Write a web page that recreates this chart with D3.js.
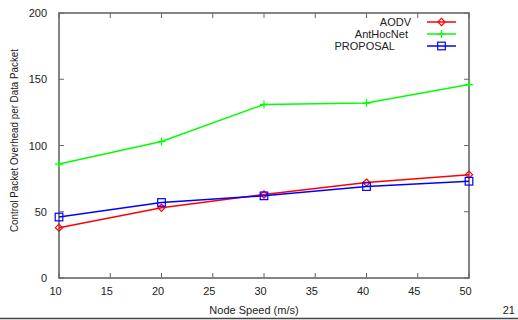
<!DOCTYPE html>
<html>
<head>
<meta charset="utf-8">
<script src="https://cdn.jsdelivr.net/npm/d3@7"></script>
<style>
  body { margin: 0; background: #fff; }
  text { font-family: "Liberation Sans", Arial, sans-serif; fill: #222; }
</style>
</head>
<body>
<script>
var speeds = [10, 20, 30, 40, 50];
var aodv = [38, 53, 63, 72, 78];
var antHocNet = [86, 103, 131, 132, 146];
var proposal = [46, 57, 62, 69, 73];
var seriesNames = ["AODV", "AntHocNet", "PROPOSAL"];
var seriesColors = ["#ff0000", "#00ff00", "#0000ff"];
var seriesMarks = ["diamond", "plus", "square"];
var xTicks = [10, 15, 20, 25, 30, 35, 40, 45, 50];
var yTicks = [0, 50, 100, 150, 200];

var w = 518;
var h = 320;
var margin = { top: 13, left: 59, bottom: 42, right: 49 };
var width = w - margin.left - margin.right;
var height = h - margin.top - margin.bottom;

var svg = d3.select("body")
  .append("svg")
  .attr("width", w)
  .attr("height", h);

var g = svg.append("g")
  .attr("transform", "translate(" + margin.left + ", " + margin.top + ")");

var x = d3.scaleLinear().domain([10, 50]).range([0, width]);
var y = d3.scaleLinear().domain([0, 200]).range([height, 0]);

// inward ticks on all four sides
var tickLen = 5;
var frameColor = "#666";
g.selectAll(".xt").data(xTicks).enter().append("line")
  .attr("x1", d => x(d)).attr("x2", d => x(d))
  .attr("y1", height).attr("y2", height - tickLen)
  .attr("stroke", frameColor);
g.selectAll(".xt2").data(xTicks).enter().append("line")
  .attr("x1", d => x(d)).attr("x2", d => x(d))
  .attr("y1", 0).attr("y2", tickLen)
  .attr("stroke", frameColor);
g.selectAll(".yt").data(yTicks).enter().append("line")
  .attr("x1", 0).attr("x2", tickLen)
  .attr("y1", d => y(d)).attr("y2", d => y(d))
  .attr("stroke", frameColor);
g.selectAll(".yt2").data(yTicks).enter().append("line")
  .attr("x1", width).attr("x2", width - tickLen)
  .attr("y1", d => y(d)).attr("y2", d => y(d))
  .attr("stroke", frameColor);

g.append("rect")
  .attr("width", width).attr("height", height)
  .attr("fill", "none")
  .attr("stroke", frameColor)
  .attr("stroke-width", 1.6);

g.selectAll(".xl").data(xTicks).enter().append("text")
  .attr("x", d => x(d) - 3.5).attr("y", height + 16.5)
  .attr("text-anchor", "middle")
  .attr("font-size", 11)
  .text(d => d);
g.selectAll(".yl").data(yTicks).enter().append("text")
  .attr("x", -12).attr("y", d => y(d) + 4)
  .attr("text-anchor", "end")
  .attr("font-size", 11)
  .text(d => d);

g.append("text")
  .attr("x", 254 - margin.left).attr("y", height + 36)
  .attr("text-anchor", "middle")
  .attr("font-size", 11)
  .text("Node Speed (m/s)");
svg.append("text")
  .attr("transform", "translate(18,140.5) rotate(-90)")
  .attr("text-anchor", "middle")
  .attr("font-size", 11)
  .attr("textLength", 183)
  .attr("lengthAdjust", "spacingAndGlyphs")
  .text("Control Packet Overhead per Data Packet");

svg.append("text")
  .attr("x", 515).attr("y", 314)
  .attr("text-anchor", "end")
  .attr("font-size", 11)
  .text("21");
svg.append("line")
  .attr("x1", 0).attr("x2", w)
  .attr("y1", 318.5).attr("y2", 318.5)
  .attr("stroke", "#444").attr("stroke-width", 1.5);

function drawMark(sel, kind, color) {
  if (kind === "diamond") {
    sel.append("path").attr("d", "M0,-3.6L3.6,0L0,3.6L-3.6,0Z")
      .attr("fill", "none").attr("stroke", color).attr("stroke-width", 1.2);
  } else if (kind === "plus") {
    sel.append("path").attr("d", "M-4,0H4M0,-4V4")
      .attr("fill", "none").attr("stroke", color).attr("stroke-width", 1.2);
  } else {
    sel.append("rect").attr("x", -3.8).attr("y", -3.8).attr("width", 7.6).attr("height", 7.6)
      .attr("fill", "none").attr("stroke", color).attr("stroke-width", 1.2);
  }
}

var allSeries = [aodv, antHocNet, proposal];
var line = d3.line()
  .x((d, i) => x(speeds[i]))
  .y(d => y(d));

allSeries.forEach(function(vals, k) {
  g.append("path")
    .datum(vals)
    .attr("d", line)
    .attr("fill", "none")
    .attr("stroke", seriesColors[k])
    .attr("stroke-width", 1.5);
  vals.forEach(function(v, i) {
    var m = g.append("g").attr("transform", "translate(" + x(speeds[i]) + "," + y(v) + ")");
    drawMark(m, seriesMarks[k], seriesColors[k]);
  });
});

// legend (text ends are uneven in the original, keep it that way)
var legEnds = [411, 408, 395];
var leg = svg.append("g");
seriesNames.forEach(function(name, k) {
  var ly = 22 + k * 12;
  leg.append("text")
    .attr("x", legEnds[k]).attr("y", ly + 4)
    .attr("text-anchor", "end")
    .attr("font-size", 11)
    .text(name);
  leg.append("line")
    .attr("x1", 427).attr("x2", 456)
    .attr("y1", ly).attr("y2", ly)
    .attr("stroke", seriesColors[k]).attr("stroke-width", 1.5);
  var m = leg.append("g").attr("transform", "translate(441.5," + ly + ")");
  drawMark(m, seriesMarks[k], seriesColors[k]);
});
</script>
</body>
</html>
